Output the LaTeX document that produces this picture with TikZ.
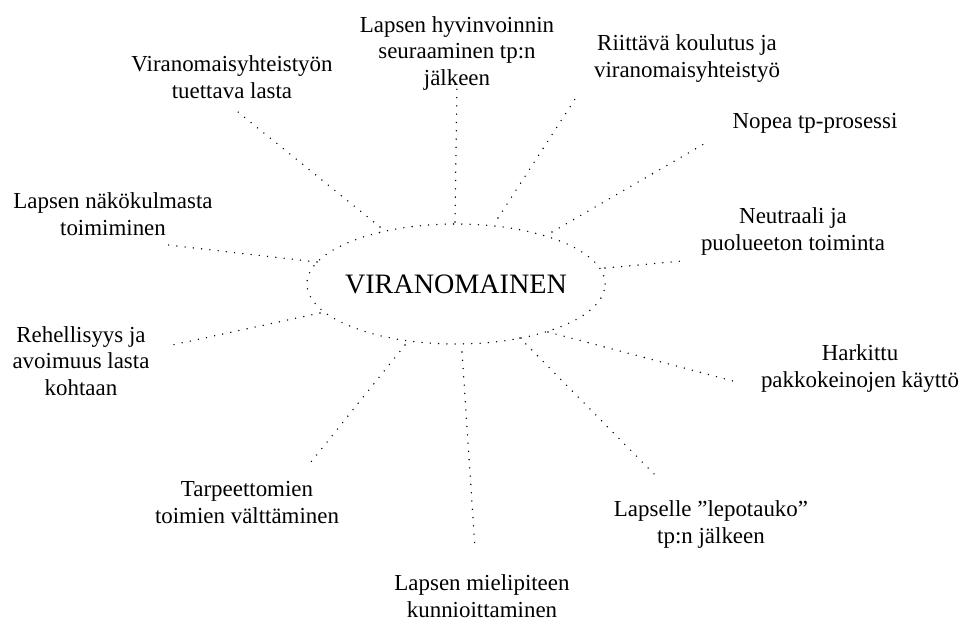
\documentclass[tikz,border=0pt]{standalone}
\usepackage{fontspec}
\setmainfont{Liberation Serif}
\usetikzlibrary{positioning}

\begin{document}
\begin{tikzpicture}[x=0.025cm, y=-0.025cm,
      lbl/.style={align=center, anchor=base, inner sep=0pt,
                  font=\fontsize{16.3}{18.7}\selectfont},
      hub/.style={inner sep=0pt, font=\fontsize{20}{24}\selectfont},
      spoke/.style={line width=1.1pt, line cap=round,
                    dash pattern=on 0pt off 5.9pt}
    ]
    \useasboundingbox (0,0) rectangle (968,620);

    \node[hub] (vir) at (456,284) {VIRANOMAINEN};
    \draw[spoke] (vir.center) ellipse [x radius=3.725cm, y radius=1.5cm];

    % labels, placed by the baseline of their last line
    \node[lbl] (yhteis) at (232,98)  {Viranomaisyhteistyön\\tuettava lasta};
    \node[lbl] (hyvin)  at (457,85)  {Lapsen hyvinvoinnin\\seuraaminen tp:n\\jälkeen};
    \node[lbl] (koul)   at (687,77)  {Riittävä koulutus ja\\viranomaisyhteistyö};
    \node[lbl] (nopea)  at (815,128) {Nopea tp-prosessi};
    \node[lbl] (neutr)  at (793,250) {Neutraali ja\\puolueeton toiminta};
    \node[lbl] (hark)   at (860,387) {Harkittu\\pakkokeinojen käyttö};
    \node[lbl] (lepo)   at (711,543) {Lapselle ”lepotauko”\\tp:n jälkeen};
    \node[lbl] (mieli)  at (482,617) {Lapsen mielipiteen\\kunnioittaminen};
    \node[lbl] (tarp)   at (247,523) {Tarpeettomien\\toimien välttäminen};
    \node[lbl] (rehel)  at (81,395)  {Rehellisyys ja\\avoimuus lasta\\kohtaan};
    \node[lbl] (nako)   at (113,235) {Lapsen näkökulmasta\\toimiminen};

    % spoke ends: s = at the ellipse, e = near the label
    \coordinate (s1) at (380,227);  \coordinate (e1) at (238,112);
    \coordinate (s2) at (455,222);  \coordinate (e2) at (457,82);
    \coordinate (s3) at (498,218);  \coordinate (e3) at (579,93);
    \coordinate (s4) at (552,232);  \coordinate (e4) at (709,141);
    \coordinate (s5) at (605,268);  \coordinate (e5) at (683,261);
    \coordinate (s6) at (548,332);  \coordinate (e6) at (733,381);
    \coordinate (s7) at (520,338);  \coordinate (e7) at (657,477);
    \coordinate (s8) at (462,352);  \coordinate (e8) at (475,548);
    \coordinate (s9) at (405,345);  \coordinate (e9) at (311,462);
    \coordinate (s10) at (320,313); \coordinate (e10) at (172,345);
    \coordinate (s11) at (317,262); \coordinate (e11) at (168,245);

    \foreach \i in {1,...,11}
      \draw[spoke] (s\i) -- (e\i);
  \end{tikzpicture}
\end{document}
